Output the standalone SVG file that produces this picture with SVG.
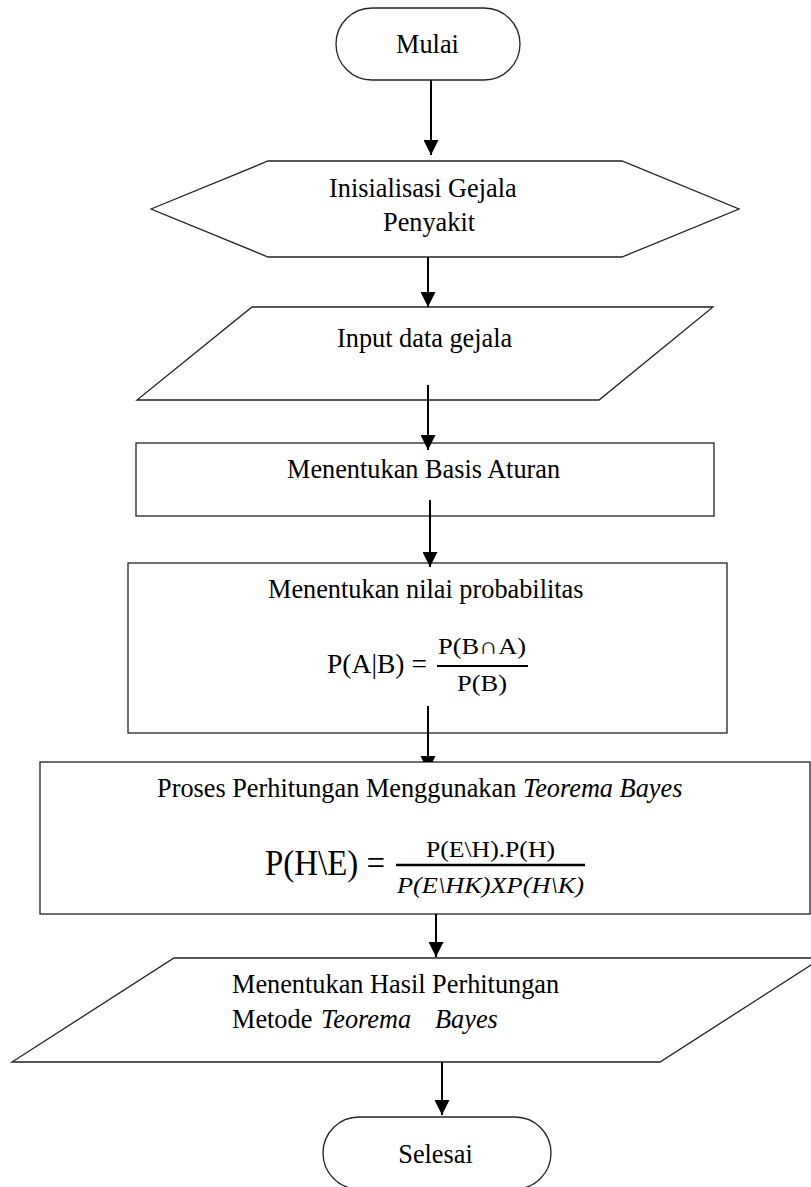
<svg xmlns="http://www.w3.org/2000/svg" width="811" height="1187" viewBox="0 0 811 1187">
<style>
.box{fill:#fff;stroke:#222;stroke-width:1.3}
.t{font-family:"Liberation Serif","Times New Roman",serif;font-size:26.3px;fill:#000}
.f{font-family:"Liberation Serif","Times New Roman",serif;font-size:23px;fill:#000}
.it{font-style:italic}
.c{fill:none;stroke:#000;stroke-width:2}
.fl{stroke:#000;stroke-width:2.2}
</style>
<defs>
<marker id="ah" markerUnits="userSpaceOnUse" markerWidth="15" markerHeight="15" refX="15" refY="7.5" orient="auto">
<path d="M0,0 L15,7.5 L0,15 z" fill="#000"/>
</marker>
</defs>
<rect width="811" height="1187" fill="#fff"/>
<g id="n-mulai">
<rect class="box" x="336" y="8" width="184" height="72" rx="36" ry="36"/>
<text class="t" x="427.5" y="53" text-anchor="middle">Mulai</text>
</g>
<g id="n-init">
<polygon class="box" points="151,209 268,161 622,161 739,209 622,257 268,257"/>
<text class="t" x="329" y="197">Inisialisasi Gejala</text>
<text class="t" x="383" y="231">Penyakit</text>
</g>
<g id="n-input">
<polygon class="box" points="252,307 713,307 599,400 137,400"/>
<text class="t" x="337" y="347">Input data gejala</text>
</g>
<g id="n-basis">
<rect class="box" x="136" y="443" width="578" height="73"/>
<text class="t" x="287" y="478">Menentukan Basis Aturan</text>
</g>
<g id="n-prob">
<rect class="box" x="128" y="563" width="599" height="170"/>
<text class="t" x="268" y="598">Menentukan nilai probabilitas</text>
<text class="t" x="327" y="673" textLength="100" lengthAdjust="spacingAndGlyphs">P(A|B) =</text>
<text class="f" x="438" y="654" textLength="88" lengthAdjust="spacingAndGlyphs">P(B∩A)</text>
<line class="fl" x1="437" y1="666" x2="528" y2="666"/>
<text class="f" x="457" y="691" textLength="50" lengthAdjust="spacingAndGlyphs">P(B)</text>
</g>
<g id="n-proses">
<rect class="box" x="40" y="762" width="770" height="152"/>
<text class="t" x="157" y="797">Proses Perhitungan Menggunakan <tspan class="it">Teorema Bayes</tspan></text>
<text class="t" x="265" y="875" style="font-size:36px" textLength="120" lengthAdjust="spacingAndGlyphs">P(H\E) =</text>
<text class="f" x="426" y="857" textLength="129" lengthAdjust="spacingAndGlyphs">P(E\H).P(H)</text>
<line class="fl" x1="396" y1="865" x2="585" y2="865" style="stroke-width:2.6"/>
<text class="f it" x="397" y="893" textLength="187" lengthAdjust="spacingAndGlyphs">P(E\HK)XP(H\K)</text>
</g>
<g id="n-output">
<polygon class="box" points="174,958 822,958 660,1062 12,1062"/>
<text class="t" x="232" y="993">Menentukan Hasil Perhitungan</text>
<text class="t" x="232" y="1028">Metode <tspan class="it" x="321">Teorema</tspan><tspan class="it" x="435">Bayes</tspan></text>
</g>
<g id="n-selesai">
<rect class="box" x="323" y="1117" width="228" height="72" rx="36" ry="36"/>
<text class="t" x="435.5" y="1163" text-anchor="middle">Selesai</text>
</g>
<g id="connectors">
<line class="c" x1="431" y1="80" x2="431" y2="155" marker-end="url(#ah)"/>
<line class="c" x1="428" y1="257" x2="428" y2="307" marker-end="url(#ah)"/>
<line class="c" x1="428" y1="385" x2="428" y2="450" marker-end="url(#ah)"/>
<line class="c" x1="430" y1="500" x2="430" y2="567" marker-end="url(#ah)"/>
<line class="c" x1="428" y1="706" x2="428" y2="760"/>
<polygon points="420.5,756 435.5,756 432.5,762 423.5,762" fill="#000"/>
<line class="c" x1="436" y1="914" x2="436" y2="957" marker-end="url(#ah)"/>
<line class="c" x1="442" y1="1062" x2="442" y2="1115" marker-end="url(#ah)"/>
</g>
</svg>
